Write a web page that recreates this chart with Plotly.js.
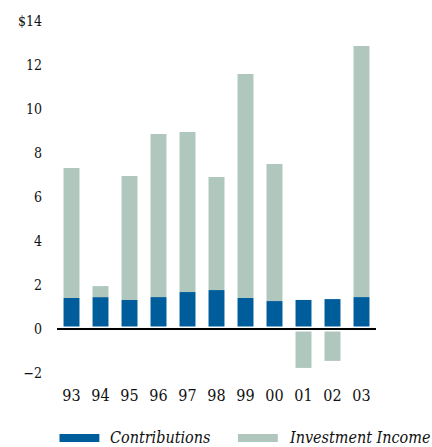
<!DOCTYPE html>
<html>
<head>
<meta charset="utf-8">
<script src="https://cdn.plot.ly/plotly-3.0.1.min.js"></script>
<style>html,body{margin:0;padding:0;background:#fff;}#chart{width:432px;height:447px;}</style>
</head>
<body>
<div id="chart"></div>
<script>
const years = ['93','94','95','96','97','98','99','00','01','02','03'];
const contributions = [1.41,1.45,1.32,1.45,1.68,1.77,1.41,1.27,1.32,1.36,1.45];
const investmentIncome = [5.91,0.50,5.63,7.41,7.27,5.14,10.18,6.23,-1.77,-1.45,11.41];
const yTickVals = [-2,0,2,4,6,8,10,12,14];
const yTickText = ['\u22122','0','2','4','6','8','10','12','$14'];
const seriesNames = ['Contributions','Investment Income'];
const colors = ['#005d9c','#b0c7bd'];

const W = 432, H = 447;
const L = 56.5, R = 55.5, T = 21, B = 74;
const pw = W - L - R, ph = H - T - B;
const px = x => (x - L) / pw;
const py = y => (H - B - y) / ph;

const fontFam = 'DejaVu Serif Condensed';

const traces = [
  {type:'bar', x: years, y: contributions, name: seriesNames[0], marker:{color: colors[0]}, showlegend:false},
  {type:'bar', x: years, y: investmentIncome, name: seriesNames[1], marker:{color: colors[1]}, showlegend:false}
];

const layout = {
  width: W, height: H,
  margin: {l: L, r: R, t: T, b: B, pad: 0},
  paper_bgcolor: '#fff', plot_bgcolor: '#fff',
  barmode: 'relative',
  bargap: 0.45,
  font: {family: fontFam, color: '#111', size: 15},
  xaxis: {
    type: 'category', range: [-0.5, 10.5], showgrid: false, zeroline: false,
    showline: false, ticks: '', ticklabelstandoff: 11,
    tickfont: {family: fontFam, size: 16, color: '#111'}
  },
  yaxis: {
    range: [-2, 14], tickvals: yTickVals, ticktext: yTickText,
    showgrid: false, zeroline: false, showline: false, ticks: '',
    ticklabelstandoff: 14,
    tickfont: {family: fontFam, size: 14, color: '#111'}
  },
  shapes: [
    {type:'line', xref:'paper', yref:'y', x0: 0, x1: 1, y0: 0, y1: 0, line:{color:'#fff', width:5}, layer:'above'},
    {type:'line', xref:'paper', yref:'y', x0: 0, x1: 1, y0: 0, y1: 0, line:{color:'#000', width:2}, layer:'above'},
    {type:'rect', xref:'paper', yref:'paper', x0: px(59), x1: px(99), y0: py(434), y1: py(442), fillcolor: colors[0], line:{width:0}},
    {type:'rect', xref:'paper', yref:'paper', x0: px(238), x1: px(278), y0: py(434), y1: py(442), fillcolor: colors[1], line:{width:0}}
  ],
  annotations: [
    {xref:'paper', yref:'paper', x: px(108), y: py(437), xanchor:'left', yanchor:'middle', showarrow:false,
     text: '<i>' + seriesNames[0] + '</i>', font:{family: fontFam, size: 16, color:'#111'}},
    {xref:'paper', yref:'paper', x: px(287), y: py(437), xanchor:'left', yanchor:'middle', showarrow:false,
     text: '<i>' + seriesNames[1] + '</i>', font:{family: fontFam, size: 16, color:'#111'}}
  ]
};

Plotly.newPlot('chart', traces, layout, {staticPlot: true, displayModeBar: false});
</script>
</body>
</html>
